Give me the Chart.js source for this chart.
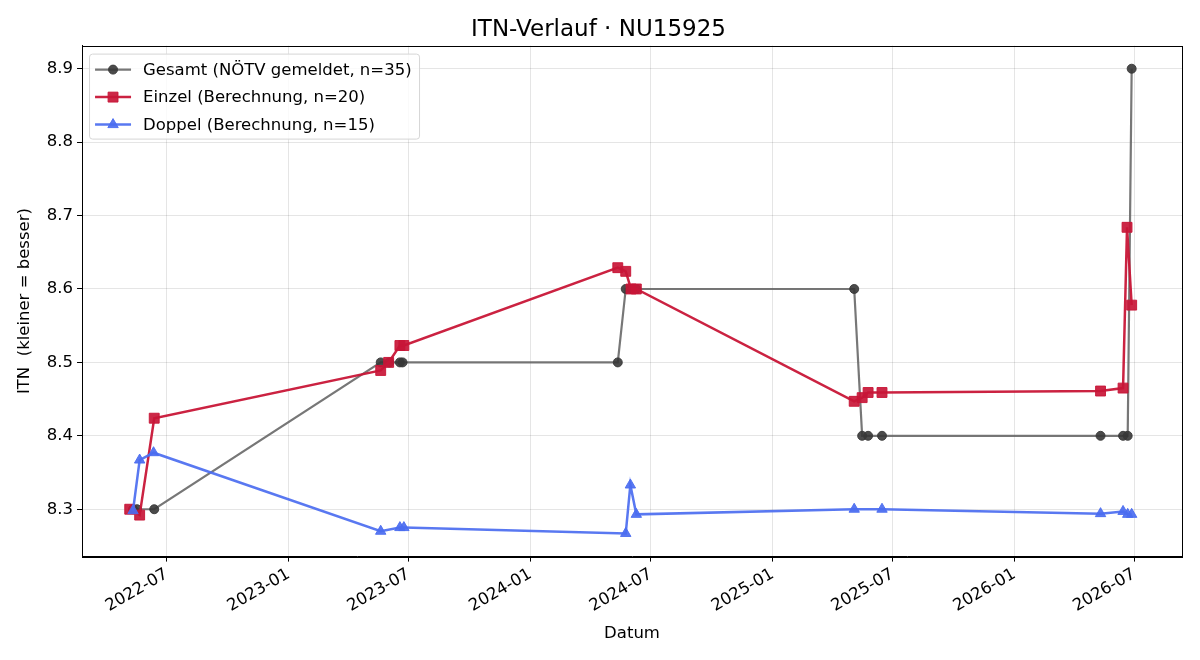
<!DOCTYPE html>
<html>
<head>
<meta charset="utf-8">
<script src="https://cdn.jsdelivr.net/npm/chart.js@4"></script>
<style>
  html, body { margin: 0; padding: 0; background: #fff; }
  #wrap { width: 1200px; height: 660px; }
</style>
</head>
<body>
<div id="wrap"><canvas id="itnChart" width="1200" height="660"></canvas></div>
<script>
// --- data ---
const gesamtDates = ['2022-05-11', '2022-05-17', '2022-06-12', '2023-05-20', '2023-06-02', '2023-06-18', '2023-06-22',
    '2024-05-12', '2024-05-24', '2024-06-01', '2024-06-09', '2025-05-04', '2025-05-16', '2025-05-25', '2025-06-15',
    '2026-05-11', '2026-06-14', '2026-06-21', '2026-06-27'];
const gesamtValues = [8.3, 8.3, 8.3, 8.5, 8.5, 8.5, 8.5,
    8.5, 8.6, 8.6, 8.6, 8.6, 8.4, 8.4, 8.4,
    8.4, 8.4, 8.4, 8.9];

const einzelDates = ['2022-05-06', '2022-05-21', '2022-06-12', '2023-05-20', '2023-06-01', '2023-06-18', '2023-06-24',
    '2024-05-12', '2024-05-24', '2024-06-01', '2024-06-09', '2025-05-04', '2025-05-16', '2025-05-25', '2025-06-15',
    '2026-05-11', '2026-06-14', '2026-06-20', '2026-06-27'];
const einzelValues = [8.3, 8.292, 8.424, 8.489, 8.5, 8.523, 8.523,
    8.629, 8.624, 8.6, 8.6, 8.447, 8.452, 8.459, 8.459,
    8.461, 8.465, 8.684, 8.578];

const doppelDates = ['2022-05-11', '2022-05-21', '2022-06-11', '2023-05-20', '2023-06-18', '2023-06-24',
    '2024-05-24', '2024-05-31', '2024-06-09', '2025-05-04', '2025-06-15',
    '2026-05-11', '2026-06-14', '2026-06-21', '2026-06-27'];
const doppelValues = [8.298, 8.367, 8.377, 8.27, 8.275, 8.275,
    8.267, 8.333, 8.293, 8.3, 8.3,
    8.294, 8.297, 8.293, 8.293];

const xTickLabels = ['2022-07', '2023-01', '2023-07', '2024-01', '2024-07', '2025-01', '2025-07', '2026-01', '2026-07'];
const yTickValues = [8.3, 8.4, 8.5, 8.6, 8.7, 8.8, 8.9];
const xRange = ['2022-02-23', '2026-09-11'];
const yRange = [8.2355, 8.9315];

const seriesLabels = ['Gesamt (NÖTV gemeldet, n=35)', 'Einzel (Berechnung, n=20)', 'Doppel (Berechnung, n=15)'];

function toTime(s) { return Date.parse(s + 'T00:00:00Z'); }
function toPoints(dates, values) {
    return dates.map(function (d, i) { return { x: toTime(d), y: values[i] }; });
}
function fmtMonth(v) {
    const d = new Date(v);
    return d.getUTCFullYear() + '-' + String(d.getUTCMonth() + 1).padStart(2, '0');
}

const FONT = 'DejaVu Sans';
const BASE = 16.5;

// frame on all four sides + legend inside the plot, matplotlib style
const framePlugin = {
    id: 'frameAndLegend',
    afterDraw: function (chart) {
        const ctx = chart.ctx;
        const a = chart.chartArea;
        ctx.save();
        ctx.strokeStyle = '#000';
        ctx.lineWidth = 1;
        ctx.strokeRect(Math.round(a.left) + 0.5, Math.round(a.top) + 0.5,
            Math.round(a.right - a.left), Math.round(a.bottom - a.top));

        // legend box
        const bx = a.left + 7, by = a.top + 8, bw = 330, bh = 85;
        ctx.fillStyle = 'rgba(255,255,255,0.8)';
        ctx.strokeStyle = '#d6d6d6';
        ctx.lineWidth = 1;
        ctx.beginPath();
        ctx.roundRect(bx + 0.5, by + 0.5, bw, bh, 3);
        ctx.fill();
        ctx.stroke();

        ctx.font = BASE + 'px "' + FONT + '"';
        ctx.textBaseline = 'middle';
        chart.data.datasets.forEach(function (ds, i) {
            const y = by + 16 + i * 27.5;
            const x0 = bx + 6, x1 = bx + 42;
            ctx.strokeStyle = ds.borderColor;
            ctx.lineWidth = ds.borderWidth;
            ctx.beginPath();
            ctx.moveTo(x0, y);
            ctx.lineTo(x1, y);
            ctx.stroke();
            ctx.fillStyle = ds.pointBackgroundColor;
            ctx.strokeStyle = ds.pointBorderColor;
            ctx.lineWidth = 1;
            Chart.helpers.drawPoint(ctx, { pointStyle: ds.pointStyle, radius: ds.pointRadius, borderWidth: 1 }, (x0 + x1) / 2, y);
            ctx.fillStyle = '#000';
            ctx.fillText(ds.label, bx + 54, y + 1);
        });
        ctx.restore();
    }
};

const ctx = document.getElementById('itnChart').getContext('2d');

new Chart(ctx, {
    type: 'line',
    data: {
        datasets: [{
            label: seriesLabels[0],
            data: toPoints(gesamtDates, gesamtValues),
            borderColor: 'rgba(100,100,100,0.88)',
            borderWidth: 2.2,
            pointStyle: 'circle',
            pointRadius: 4.5,
            pointBackgroundColor: 'rgba(55,55,55,0.9)',
            pointBorderColor: 'rgba(55,55,55,0.9)',
            pointBorderWidth: 1,
            order: 3
        }, {
            label: seriesLabels[1],
            data: toPoints(einzelDates, einzelValues),
            borderColor: 'rgba(200,22,55,0.95)',
            borderWidth: 2.5,
            pointStyle: 'rect',
            pointRadius: 7,
            pointBackgroundColor: 'rgba(200,22,55,0.92)',
            pointBorderColor: 'rgba(200,22,55,0.92)',
            pointBorderWidth: 1,
            order: 2
        }, {
            label: seriesLabels[2],
            data: toPoints(doppelDates, doppelValues),
            borderColor: 'rgba(75,108,240,0.92)',
            borderWidth: 2.5,
            pointStyle: 'triangle',
            pointRadius: 6,
            pointBackgroundColor: 'rgba(75,108,240,0.92)',
            pointBorderColor: 'rgba(75,108,240,0.92)',
            pointBorderWidth: 1,
            order: 1
        }]
    },
    options: {
        responsive: false,
        animation: false,
        layout: {
            padding: { left: 15, right: 18, top: 6, bottom: 16 }
        },
        elements: {
            line: { tension: 0 }
        },
        scales: {
            x: {
                type: 'linear',
                min: toTime(xRange[0]),
                max: toTime(xRange[1]),
                afterBuildTicks: function (axis) {
                    axis.ticks = xTickLabels.map(function (s) { return { value: toTime(s + '-01') }; });
                },
                ticks: {
                    autoSkip: false,
                    minRotation: 30,
                    maxRotation: 30,
                    color: '#000',
                    font: { family: FONT, size: BASE },
                    padding: 3,
                    callback: function (value) { return fmtMonth(value); }
                },
                grid: {
                    color: 'rgba(0,0,0,0.1)',
                    tickColor: '#000',
                    tickLength: 5
                },
                border: { color: '#000' },
                title: {
                    display: true,
                    text: 'Datum',
                    color: '#000',
                    font: { family: FONT, size: BASE },
                    padding: { top: 5, bottom: 0 }
                }
            },
            y: {
                type: 'linear',
                min: yRange[0],
                max: yRange[1],
                afterBuildTicks: function (axis) {
                    axis.ticks = yTickValues.map(function (v) { return { value: v }; });
                },
                ticks: {
                    color: '#000',
                    font: { family: FONT, size: BASE },
                    padding: 4,
                    callback: function (value) { return value.toFixed(1); }
                },
                grid: {
                    color: 'rgba(0,0,0,0.1)',
                    tickColor: '#000',
                    tickLength: 5
                },
                border: { color: '#000' },
                title: {
                    display: true,
                    text: 'ITN  (kleiner = besser)',
                    color: '#000',
                    font: { family: FONT, size: BASE },
                    padding: { top: 0, bottom: 8 }
                }
            }
        },
        plugins: {
            legend: { display: false },
            tooltip: { enabled: false },
            title: {
                display: true,
                text: 'ITN-Verlauf · NU15925',
                color: '#000',
                font: { family: FONT, size: 23, weight: 'normal' },
                padding: { top: 10, bottom: 2 }
            }
        }
    },
    plugins: [framePlugin]
});
</script>
</body>
</html>
